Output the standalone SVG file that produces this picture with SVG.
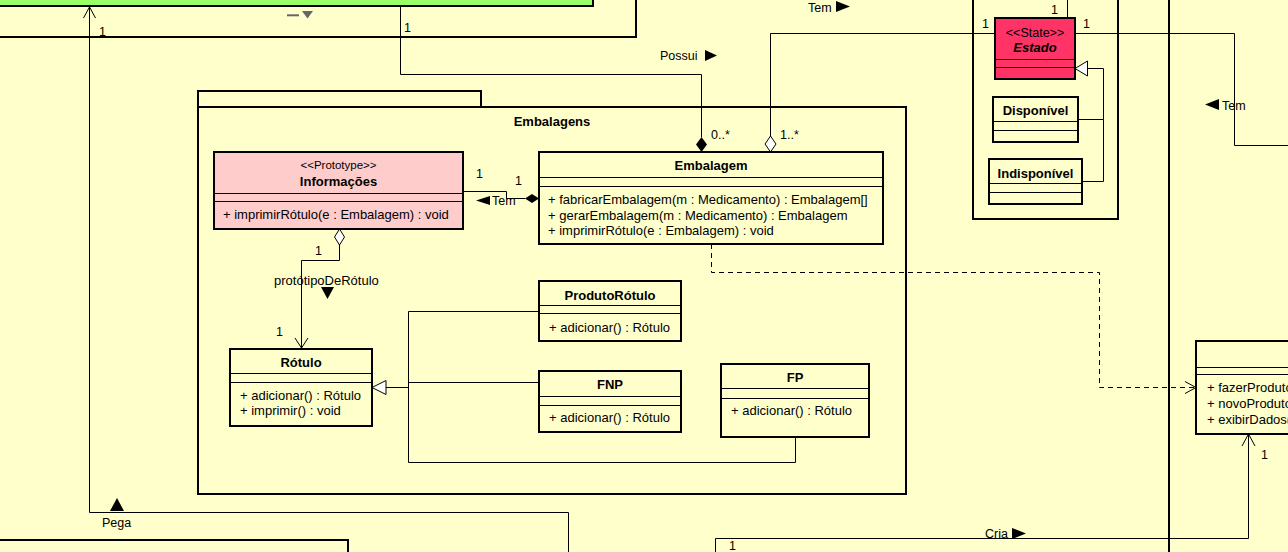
<svg xmlns="http://www.w3.org/2000/svg" width="1288" height="552" viewBox="0 0 1288 552">
<style>
.bg{fill:#FFFFCC}
.pkg{fill:#FFFFCC;stroke:#000;stroke-width:2}
.box{fill:#FFFFCC;stroke:#000;stroke-width:2}
.sep{stroke:#000;stroke-width:1}
.ln{fill:none;stroke:#000;stroke-width:1}
.dash{fill:none;stroke:#000;stroke-width:1;stroke-dasharray:5,4}
.hol{fill:#FFFFFF;stroke:#000;stroke-width:1}
.fil{fill:#000}
.t{font-family:"Liberation Sans",Arial,sans-serif;font-size:13px;fill:#000}
.b{font-weight:bold}
.c{text-anchor:middle}
.lb{font-family:"Liberation Sans",Arial,sans-serif;font-size:12.5px;fill:#000}
.st{font-family:"Liberation Sans",Arial,sans-serif;font-size:11.5px;fill:#000}
</style>
<rect class="bg" x="0" y="0" width="1288" height="552"/>

<g id="packages">
  <rect class="pkg" x="-10" y="-100" width="646" height="137"/>
  <rect class="pkg" x="973" y="-50" width="145" height="269"/>
  <line x1="1169" y1="0" x2="1169" y2="552" stroke="#000" stroke-width="2"/>
  <g id="pkg-embalagens">
    <rect class="pkg" x="198" y="91" width="283" height="16"/>
    <rect class="pkg" x="198" y="107" width="708" height="387"/>
    <text class="t b c" x="552" y="126">Embalagens</text>
  </g>
  <rect class="pkg" x="-10" y="540" width="358" height="30"/>
</g>

<g id="node-green">
  <rect x="-10" y="-100" width="603" height="106" fill="#99FF66" stroke="#000" stroke-width="2"/>
  <line x1="287" y1="15.3" x2="299" y2="15.3" stroke="#666" stroke-width="2"/>
  <polygon points="302,11 313,11 307.5,18.5" fill="#666"/>
</g>

<g id="connectors">
  <path class="ln" d="M89.5,7 V512.5 H568.5 V552"/>
  <path class="ln" d="M83.5,18 L89.5,7 L95.5,18"/>
  <path class="ln" d="M400.5,7 V74.5 H701.5 V137"/>
  <polygon class="fil" points="701.5,137 707,144.5 701.5,152 696,144.5"/>
  <path class="ln" d="M770.5,136 V33.5 H995"/>
  <polygon class="hol" points="770.5,136 776,144 770.5,152 765,144"/>
  <path class="ln" d="M1067.5,0 V18"/>
  <path class="ln" d="M1075,33.5 H1234.5 V145.5 H1288"/>
  <path class="ln" d="M1078,119.5 H1103.5 V68.5 H1087.5"/>
  <path class="ln" d="M1082,181.5 H1103.5 V119.5"/>
  <polygon class="hol" points="1075,68.5 1087.5,61 1087.5,76"/>
  <path class="ln" d="M463,191.5 H506.5 V198.5 H525"/>
  <polygon class="fil" points="525,198.5 532,194 539,198.5 532,203"/>
  <path class="ln" d="M339.5,245 V260.5 H301.5 V348"/>
  <polygon class="hol" points="339.5,229 344.5,237 339.5,245 334.5,237"/>
  <path class="ln" d="M295,338 L301.5,348 L308,338"/>
  <path class="ln" d="M539,311.5 H408.5 V462.5 H795.5 V437"/>
  <path class="ln" d="M539,382.5 H408.5"/>
  <path class="ln" d="M386,387.5 H408.5"/>
  <polygon class="hol" points="372,387.5 386,380.5 386,394.5"/>
  <path class="dash" d="M711.5,244 V272.5 H1099.5 V387.5 H1195"/>
  <path class="ln" d="M1185,381.5 L1196,387.5 L1185,393.5"/>
  <path class="ln" d="M715.5,552 V538.5 H1248.5 V435"/>
  <path class="ln" d="M1242,446 L1248.5,434 L1255,446"/>
</g>

<g id="node-informacoes">
  <rect class="box" x="214" y="152" width="249" height="77" style="fill:#FFCCCC"/>
  <line class="sep" x1="214" y1="193.5" x2="463" y2="193.5"/>
  <line class="sep" x1="214" y1="201.5" x2="463" y2="201.5"/>
  <text class="st c" x="338.5" y="169">&lt;&lt;Prototype&gt;&gt;</text>
  <text class="t b c" x="338.5" y="186">Informações</text>
  <text class="t" x="223" y="219">+ imprimirRótulo(e : Embalagem) : void</text>
</g>

<g id="node-embalagem">
  <rect class="box" x="539" y="152" width="344" height="92"/>
  <line class="sep" x1="539" y1="177.5" x2="883" y2="177.5"/>
  <line class="sep" x1="539" y1="186.5" x2="883" y2="186.5"/>
  <text class="t b c" x="711" y="170">Embalagem</text>
  <text class="t" x="548" y="204">+ fabricarEmbalagem(m : Medicamento) : Embalagem[]</text>
  <text class="t" x="548" y="219.5">+ gerarEmbalagem(m : Medicamento) : Embalagem</text>
  <text class="t" x="548" y="235">+ imprimirRótulo(e : Embalagem) : void</text>
</g>

<g id="node-rotulo">
  <rect class="box" x="230" y="349" width="142" height="77"/>
  <line class="sep" x1="230" y1="373.5" x2="372" y2="373.5"/>
  <line class="sep" x1="230" y1="382.5" x2="372" y2="382.5"/>
  <text class="t b c" x="301" y="367">Rótulo</text>
  <text class="t" x="240" y="400">+ adicionar() : Rótulo</text>
  <text class="t" x="240" y="415">+ imprimir() : void</text>
</g>

<g id="node-produtorotulo">
  <rect class="box" x="539" y="281" width="142" height="60"/>
  <line class="sep" x1="539" y1="305.5" x2="681" y2="305.5"/>
  <line class="sep" x1="539" y1="313.5" x2="681" y2="313.5"/>
  <text class="t b c" x="610" y="299.5">ProdutoRótulo</text>
  <text class="t" x="549" y="332">+ adicionar() : Rótulo</text>
</g>

<g id="node-fnp">
  <rect class="box" x="539" y="371" width="142" height="61"/>
  <line class="sep" x1="539" y1="396.5" x2="681" y2="396.5"/>
  <line class="sep" x1="539" y1="405.5" x2="681" y2="405.5"/>
  <text class="t b c" x="610" y="389">FNP</text>
  <text class="t" x="549" y="422">+ adicionar() : Rótulo</text>
</g>

<g id="node-fp">
  <rect class="box" x="721" y="364" width="148" height="73"/>
  <line class="sep" x1="721" y1="388.5" x2="869" y2="388.5"/>
  <line class="sep" x1="721" y1="398.5" x2="869" y2="398.5"/>
  <text class="t b c" x="795" y="382">FP</text>
  <text class="t" x="731" y="415">+ adicionar() : Rótulo</text>
</g>

<g id="node-estado">
  <rect class="box" x="995" y="18" width="80" height="61" style="fill:#FF3366"/>
  <line class="sep" x1="995" y1="59.5" x2="1075" y2="59.5"/>
  <line class="sep" x1="995" y1="67.5" x2="1075" y2="67.5"/>
  <text class="lb c" x="1035" y="36.5">&lt;&lt;State&gt;&gt;</text>
  <text class="t b c" x="1035" y="52" font-style="italic">Estado</text>
</g>

<g id="node-disponivel">
  <rect class="box" x="993" y="97" width="85" height="45"/>
  <line class="sep" x1="993" y1="121.5" x2="1078" y2="121.5"/>
  <line class="sep" x1="993" y1="130.5" x2="1078" y2="130.5"/>
  <text class="t b c" x="1035.5" y="115">Disponível</text>
</g>

<g id="node-indisponivel">
  <rect class="box" x="989" y="159" width="93" height="45"/>
  <line class="sep" x1="989" y1="183.5" x2="1082" y2="183.5"/>
  <line class="sep" x1="989" y1="192.5" x2="1082" y2="192.5"/>
  <text class="t b c" x="1035.5" y="177.5">Indisponível</text>
</g>

<g id="node-produto">
  <rect class="box" x="1196" y="341" width="120" height="93"/>
  <line class="sep" x1="1196" y1="367.5" x2="1288" y2="367.5"/>
  <line class="sep" x1="1196" y1="374.5" x2="1288" y2="374.5"/>
  <text class="t" x="1207" y="392">+ fazerProduto</text>
  <text class="t" x="1207" y="408">+ novoProduto</text>
  <text class="t" x="1207" y="424">+ exibirDados(</text>
</g>

<g id="labels">
  <text class="lb" x="99" y="36">1</text>
  <text class="lb" x="404" y="31.5">1</text>
  <text class="lb" x="660" y="60">Possui</text>
  <polygon class="fil" points="705,50 717,55.5 705,61"/>
  <text class="lb" x="808" y="12">Tem</text>
  <polygon class="fil" points="836,1 850,6.5 836,12"/>
  <text class="lb" x="711" y="139">0..*</text>
  <text class="lb" x="780" y="139">1..*</text>
  <text class="lb" x="982" y="28">1</text>
  <text class="lb" x="1051" y="14">1</text>
  <text class="lb" x="1083" y="28">1</text>
  <polygon class="fil" points="1219,99 1205,104.5 1219,110"/>
  <text class="lb" x="1222" y="110">Tem</text>
  <text class="lb" x="476" y="178">1</text>
  <text class="lb" x="515" y="185">1</text>
  <polygon class="fil" points="490,196 476,200.5 490,205"/>
  <text class="lb" x="492" y="205">Tem</text>
  <text class="lb" x="315" y="255">1</text>
  <text class="t" x="274" y="285">protótipoDeRótulo</text>
  <polygon class="fil" points="321,287 334,287 327.5,299"/>
  <text class="lb" x="276" y="336">1</text>
  <polygon class="fil" points="110,511 124,511 117,498"/>
  <text class="lb" x="102" y="527">Pega</text>
  <text class="lb" x="985" y="538">Cria</text>
  <polygon class="fil" points="1012,528 1026,533.5 1012,539"/>
  <text class="lb" x="1261" y="459">1</text>
  <text class="lb" x="729" y="550">1</text>
</g>
</svg>
